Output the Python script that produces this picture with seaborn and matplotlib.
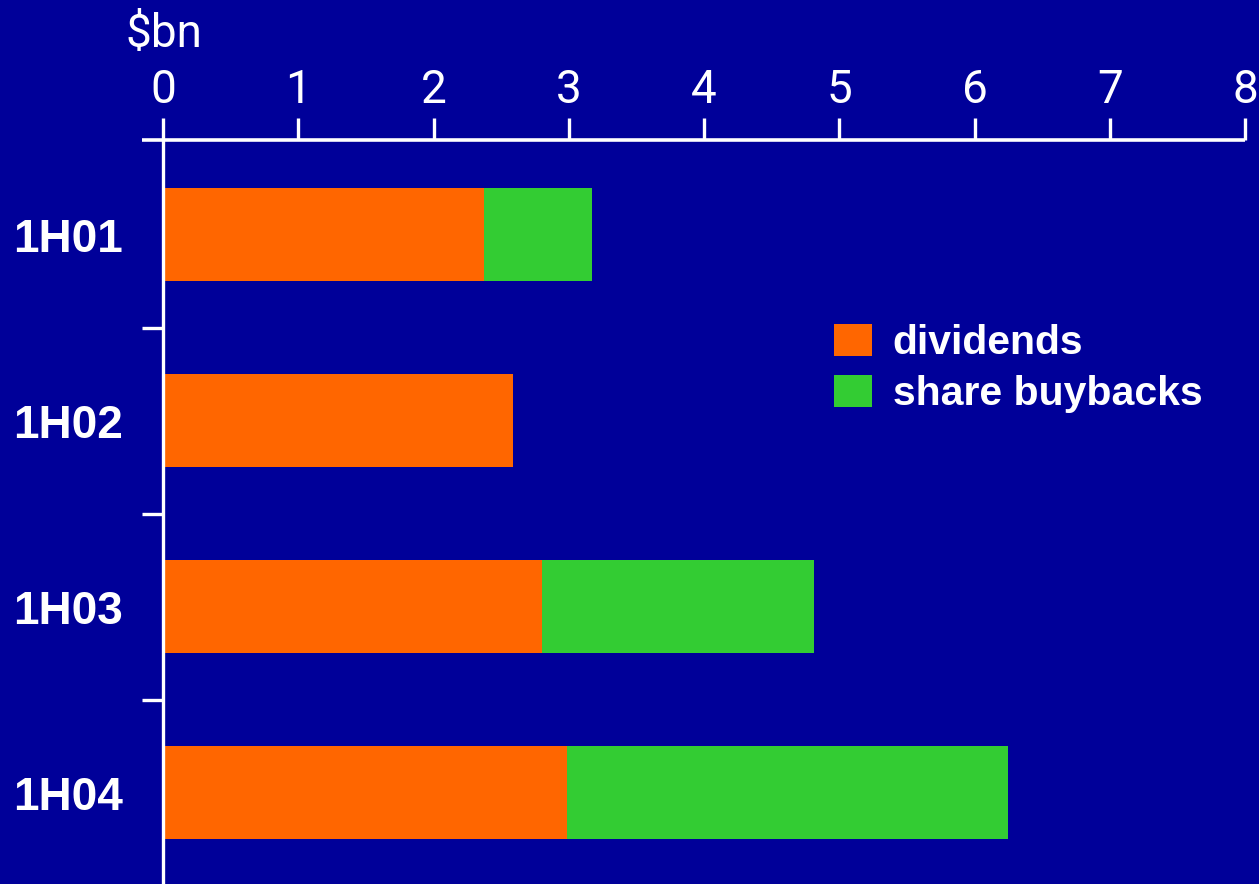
import matplotlib
matplotlib.use("Agg")
import matplotlib.pyplot as plt
import seaborn as sns
import pandas as pd
from matplotlib.patches import Patch

periods = ["1H01", "1H02", "1H03", "1H04"]
dividends = [2.37, 2.59, 2.80, 2.99]
buybacks = [0.80, 0.0, 2.01, 3.26]
x_ticks = [0, 1, 2, 3, 4, 5, 6, 7, 8]

BG = "#000099"
ORANGE = "#FF6600"
GREEN = "#33CC33"
WHITE = "white"

sns.set_theme(style="white")
plt.rcParams["font.family"] = ["Liberation Sans", "DejaVu Sans"]

df = pd.DataFrame({
    "period": periods,
    "dividends": dividends,
    "total": [d + b for d, b in zip(dividends, buybacks)],
})

fig = plt.figure(figsize=(12.59, 8.84), dpi=100, facecolor=BG)
ax = fig.add_axes([163 / 1259, 0.0, (1245 - 163) / 1259, 1 - 140 / 884])
ax.set_facecolor(BG)

sns.barplot(data=df, y="period", x="total", orient="h", color=GREEN,
            width=0.5, saturation=1, ax=ax, linewidth=0, order=periods)
sns.barplot(data=df, y="period", x="dividends", orient="h", color=ORANGE,
            width=0.5, saturation=1, ax=ax, linewidth=0, order=periods)

ax.set_xlim(0, 8)
ax.set_ylim(3.49, -0.51)
ax.set_xlabel("")
ax.set_ylabel("")

# x axis on top
ax.xaxis.tick_top()
ax.set_xticks(x_ticks)
ax.set_xticklabels([str(v) for v in x_ticks], fontfamily="Roboto",
                   fontweight="normal", fontsize=33, color=WHITE)
ax.tick_params(axis="x", which="major", direction="out", length=16, width=2.4,
               color=WHITE, pad=4, top=True, bottom=False)

# y axis
ax.set_yticks(range(len(periods)))
ax.set_yticklabels(periods, fontweight="bold", fontsize=33, color=WHITE)
ax.set_yticks([0.5, 1.5, 2.5], minor=True)
ax.tick_params(axis="y", which="major", length=0, pad=29)
ax.tick_params(axis="y", which="minor", direction="out", length=15, width=2.4,
               color=WHITE, left=True)

for s in ["right", "bottom"]:
    ax.spines[s].set_visible(False)
ax.spines["left"].set_color(WHITE)
ax.spines["left"].set_linewidth(2.4)
ax.spines["top"].set_visible(False)
ax.plot([-21 / 1082, 1], [1, 1], transform=ax.transAxes, color=WHITE,
        lw=2.6, clip_on=False, solid_capstyle="butt")

fig.text(126 / 1259, 1 - 47 / 884, "$bn", fontfamily="Roboto", fontweight="normal",
         fontsize=33, color=WHITE, ha="left", va="baseline")

handles = [Patch(facecolor=ORANGE, edgecolor="none", label="dividends"),
           Patch(facecolor=GREEN, edgecolor="none", label="share buybacks")]
leg = ax.legend(handles=handles, loc="upper left",
                bbox_to_anchor=(826 / 1259, 1 - 316 / 884),
                bbox_transform=fig.transFigure, frameon=False,
                fontsize=29.5, handlelength=0.93, handleheight=0.82,
                handletextpad=0.5, labelspacing=0.3, borderaxespad=0,
                borderpad=0.2)
for t in leg.get_texts():
    t.set_color(WHITE)
    t.set_fontweight("bold")

fig.savefig("out.png", dpi=100, facecolor=BG)
